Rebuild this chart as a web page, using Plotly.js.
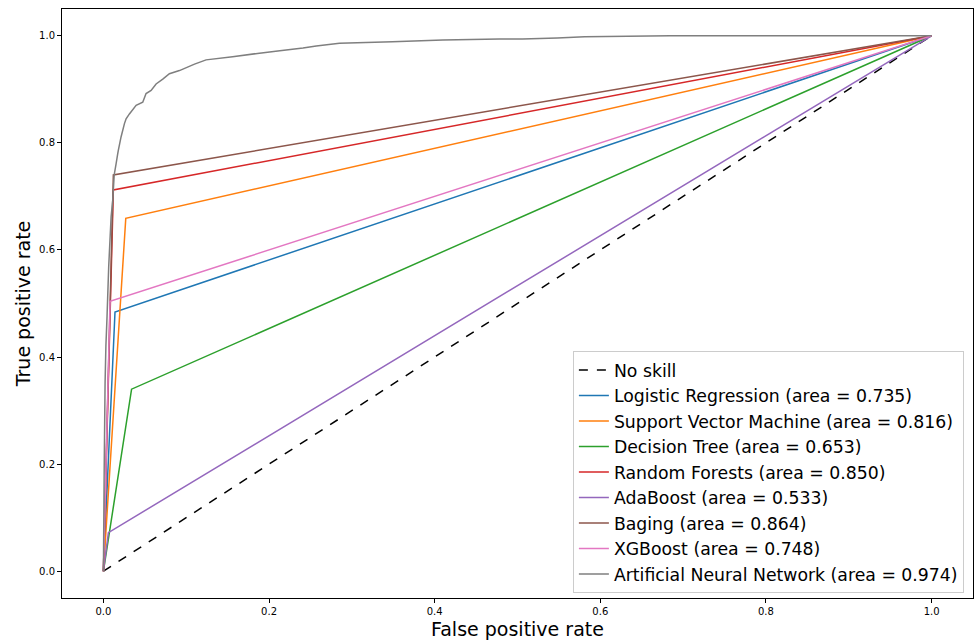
<!DOCTYPE html>
<html>
<head>
<meta charset="utf-8">
<script src="https://cdn.plot.ly/plotly-3.0.1.min.js"></script>
<style>html,body{margin:0;padding:0;background:#fff;}#chart{width:974px;height:644px;}</style>
</head>
<body>
<div id="chart"></div>
<script>
// Single-threshold models: [fpr points], [tpr points]
const modelNames = ["Logistic Regression", "Support Vector Machine", "Decision Tree", "Random Forests", "AdaBoost", "Baging", "XGBoost"];
const modelAUC = ["0.735", "0.816", "0.653", "0.850", "0.533", "0.864", "0.748"];
const modelFPR = [
  [0, 0.014, 1],
  [0, 0.027, 1],
  [0, 0.034, 1],
  [0, 0.012, 1],
  [0, 0.006, 1],
  [0, 0.012, 1],
  [0, 0.008, 1]
];
const modelTPR = [
  [0, 0.484, 1],
  [0, 0.659, 1],
  [0, 0.340, 1],
  [0, 0.712, 1],
  [0, 0.072, 1],
  [0, 0.740, 1],
  [0, 0.504, 1]
];
const modelColors = ["#1f77b4", "#ff7f0e", "#2ca02c", "#d62728", "#9467bd", "#8c564b", "#e377c2"];

// Artificial Neural Network ROC curve
const annAUC = "0.974";
const annFPR = [0, 0.001, 0.002, 0.003, 0.0044, 0.0064, 0.0093, 0.0113, 0.013, 0.0153, 0.0173, 0.018, 0.0213, 0.0254, 0.0274, 0.0314, 0.0395, 0.0475, 0.0515, 0.0576, 0.0636, 0.0717, 0.0797, 0.0918, 0.110, 0.124, 0.156, 0.186, 0.213, 0.241, 0.257, 0.285, 0.349, 0.410, 0.478, 0.506, 0.548, 0.581, 0.684, 0.80, 0.90, 1.0];
const annTPR = [0, 0.20, 0.35, 0.42, 0.476, 0.569, 0.662, 0.693, 0.740, 0.761, 0.780, 0.786, 0.811, 0.836, 0.845, 0.854, 0.870, 0.876, 0.892, 0.898, 0.910, 0.919, 0.929, 0.935, 0.947, 0.955, 0.961, 0.967, 0.972, 0.977, 0.981, 0.986, 0.989, 0.992, 0.994, 0.994, 0.996, 0.998, 1.0, 1.0, 1.0, 1.0];

const noSkill = [0, 1];

const traces = [];
traces.push({x: noSkill, y: noSkill, mode: "lines", name: "No skill",
  line: {color: "#000000", dash: "dash", width: 1.5}});
for (let i = 0; i < modelNames.length; i++) {
  traces.push({x: modelFPR[i], y: modelTPR[i], mode: "lines",
    name: modelNames[i] + " (area = " + modelAUC[i] + ")",
    line: {color: modelColors[i], width: 1.5}});
}
traces.push({x: annFPR, y: annTPR, mode: "lines",
  name: "Artificial Neural Network (area = " + annAUC + ")",
  line: {color: "#7f7f7f", width: 1.5, simplify: false}});

const axisCommon = {
  range: [-0.05, 1.05], dtick: 0.2, tick0: 0, tickformat: ".1f",
  showgrid: false, zeroline: false, showline: true, mirror: true,
  linecolor: "#000", linewidth: 1, ticks: "outside", ticklen: 4, tickcolor: "#000",
  tickfont: {family: "DejaVu Sans", size: 10, color: "#000"}
};

const layout = {
  width: 974, height: 644,
  margin: {l: 62, r: 1, t: 9, b: 46},
  paper_bgcolor: "#fff", plot_bgcolor: "#fff",
  showlegend: true,
  xaxis: Object.assign({}, axisCommon, {title: {text: "False positive rate", font: {family: "DejaVu Sans", size: 19, color: "#000"}, standoff: 6}}),
  yaxis: Object.assign({}, axisCommon, {title: {text: "True positive rate", font: {family: "DejaVu Sans", size: 19, color: "#000"}, standoff: 3}}),
  legend: {x: 0.99, y: 0.008, xanchor: "right", yanchor: "bottom",
    bgcolor: "rgba(255,255,255,0.9)", bordercolor: "#cccccc", borderwidth: 1,
    font: {family: "DejaVu Sans", size: 17.3, color: "#000"}, tracegroupgap: 0}
};

Plotly.newPlot("chart", traces, layout, {displayModeBar: false, staticPlot: true});
</script>
</body>
</html>
